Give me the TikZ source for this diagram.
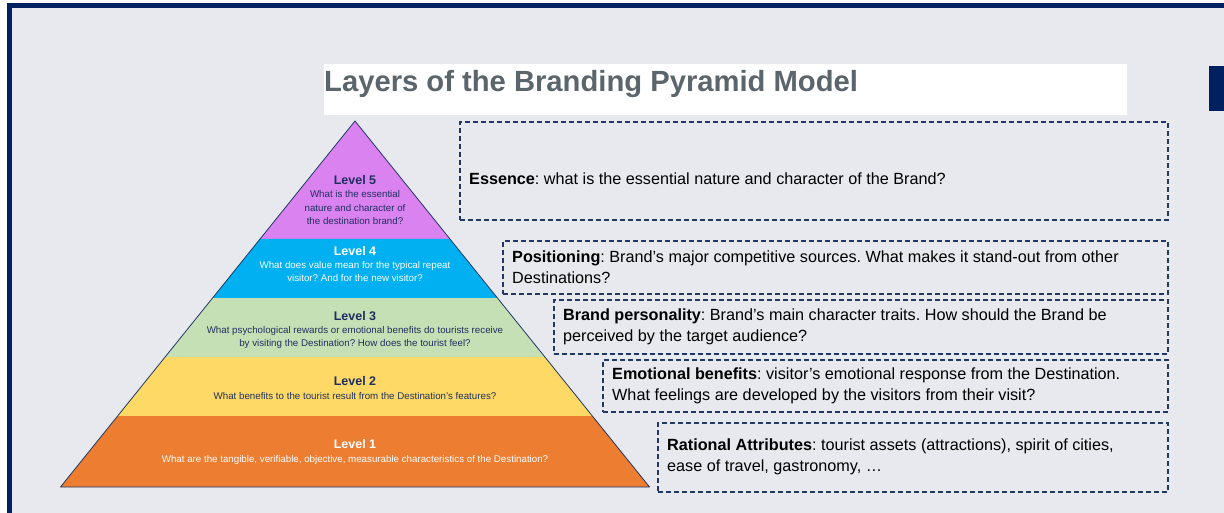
\documentclass[tikz,border=0pt]{standalone}
\usepackage{fontspec}
\setmainfont{Liberation Sans}
\frenchspacing
\definecolor{navy}{HTML}{002060}
\definecolor{boxline}{HTML}{203864}
\definecolor{panel}{HTML}{E7E9EF}
\definecolor{titlegray}{HTML}{5B656C}
\definecolor{lvlfive}{HTML}{DA82F0}
\definecolor{lvlfour}{HTML}{00B0F0}
\definecolor{lvlthree}{HTML}{C5E0B4}
\definecolor{lvltwo}{HTML}{FFD966}
\definecolor{lvlone}{HTML}{ED7D31}
\definecolor{lvltext}{HTML}{1F2F5F}
\newcommand{\lvlhead}[1]{{\bfseries\fontsize{12.5}{13}\selectfont #1}}
\tikzset{
  lvl/.style={align=center,inner sep=0pt,text=lvltext,font=\fontsize{9.75}{13.3}\selectfont},
  descbox/.style={draw=boxline,line width=1.6pt,dash pattern=on 5pt off 3pt,anchor=north west,inner sep=0pt},
  desctext/.style={anchor=west,align=left,inner sep=0pt,xshift=10pt,font=\fontsize{16.2}{21}\selectfont},
}
\begin{document}
\begin{tikzpicture}[x=1pt,y=-1pt]
\useasboundingbox (0,0) rectangle (1224,513);
\fill[white] (0,0) rectangle (1224,513);
\draw[navy,line width=5pt,fill=panel] (9.5,5.5) rectangle (1260,550);
\fill[navy] (1209,66) rectangle (1224,111);
%
\node[fill=white,anchor=north west,inner sep=0pt,minimum width=803pt,minimum height=51pt] (titlebox) at (324,64) {};
\node[anchor=west,inner sep=0pt,text=titlegray,font=\bfseries\fontsize{29.2}{34}\selectfont] (title) at (324,84) {Layers of the Branding Pyramid Model};
%
\fill[lvlfive] (355,121) -- (449.95,239) -- (260.05,239) -- cycle;
\fill[lvlfour] (260.05,239) -- (449.95,239) -- (497.4,298) -- (212.6,298) -- cycle;
\fill[lvlthree] (212.6,298) -- (497.4,298) -- (544.9,357) -- (165.1,357) -- cycle;
\fill[lvltwo] (165.1,357) -- (544.9,357) -- (592.4,416) -- (117.6,416) -- cycle;
\fill[lvlone] (117.6,416) -- (592.4,416) -- (649.5,487) -- (60.5,487) -- cycle;
\draw[boxline,line width=0.8pt,line join=round] (355,121) -- (649.5,487) -- (60.5,487) -- cycle;
%
\node[lvl] (lvl5) at (355,200) {\lvlhead{Level 5}\\What is the essential\\nature and character of\\the destination brand?};
\node[lvl,text=white] (lvl4) at (355,264) {\lvlhead{Level 4}\\What does value mean for the typical repeat\\visitor? And for the new visitor?};
\node[lvl] (lvl3) at (355,330) {\lvlhead{Level 3}\\What psychological rewards or emotional benefits do tourists receive\\by visiting the Destination? How does the tourist feel?};
\node[lvl] (lvl2) at (355,388) {\lvlhead{Level 2}\\What benefits to the tourist result from the Destination’s features?};
\node[lvl,text=white] (lvl1) at (355,452) {\lvlhead{Level 1}\\What are the tangible, verifiable, objective, measurable characteristics of the Destination?};
%
\node[descbox,minimum width=708pt,minimum height=98pt] (essence) at (459,121) {};
\node[desctext,yshift=-8pt] (essencetxt) at (essence.west) {\textbf{Essence}: what is the essential nature and character of the Brand?};
%
\node[descbox,minimum width=665pt,minimum height=53pt] (positioning) at (502,240) {};
\node[desctext] (positioningtxt) at (positioning.west) {\textbf{Positioning}: Brand’s major competitive sources. What makes it stand-out from other\\Destinations?};
%
\node[descbox,minimum width=614pt,minimum height=54pt] (personality) at (553,299) {};
\node[desctext] (personalitytxt) at (personality.west) {\textbf{Brand personality}: Brand’s main character traits. How should the Brand be\\perceived by the target audience?};
%
\node[descbox,minimum width=565pt,minimum height=52pt] (emotional) at (602,359) {};
\node[desctext] (emotionaltxt) at (emotional.west) {\textbf{Emotional benefits}: visitor’s emotional response from the Destination.\\What feelings are developed by the visitors from their visit?};
%
\node[descbox,minimum width=510pt,minimum height=69pt] (rational) at (657,422) {};
\node[desctext] (rationaltxt) at (rational.west) {\textbf{Rational Attributes}: tourist assets (attractions), spirit of cities,\\ease of travel, gastronomy, …};
\end{tikzpicture}
\end{document}
